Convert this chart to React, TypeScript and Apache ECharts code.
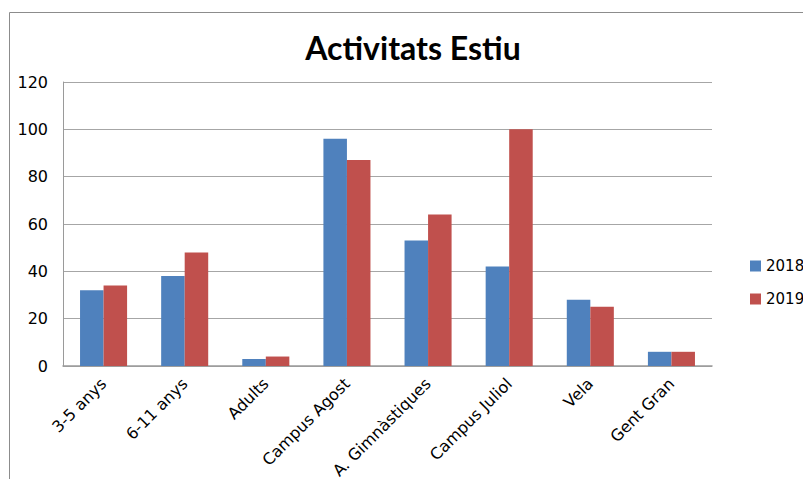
import React, { useEffect, useRef } from "react";
import * as echarts from "echarts";

const categories = ["3-5 anys", "6-11 anys", "Adults", "Campus Agost", "A. Gimnàstiques", "Campus Juliol", "Vela", "Gent Gran"];
const values2018 = [32, 38, 3, 96, 53, 42, 28, 6];
const values2019 = [34, 48, 4, 87, 64, 100, 25, 6];
const seriesNames = ["2018", "2019"];
const chartTitle = "Activitats Estiu";

export default function App() {
  const ref = useRef<HTMLDivElement>(null);
  useEffect(() => {
    if (!ref.current) return;
    const chart = echarts.init(ref.current, undefined, { renderer: "svg" });
    const font = "DejaVu Sans";
    chart.setOption({
      animation: false,
      backgroundColor: "#ffffff",
      title: {
        text: chartTitle,
        left: 408,
        top: 26,
        textAlign: "center",
        textStyle: { fontFamily: "Lato", fontWeight: "bold", fontSize: 32, color: "#000" },
      },
      graphic: [
        {
          type: "rect",
          shape: { x: 9.5, y: 12.5, width: 900, height: 600 },
          style: { fill: "none", stroke: "#8c8c8c", lineWidth: 1 },
          silent: true,
        },
      ],
      legend: {
        orient: "vertical",
        left: 745,
        top: 252,
        itemWidth: 11,
        itemHeight: 11,
        itemGap: 15,
        icon: "rect",
        textStyle: { fontFamily: font, fontSize: 15, color: "#000", lineHeight: 18 },
        data: seriesNames,
      },
      grid: { left: 63, right: 91, top: 82, bottom: 113, containLabel: false, outerBoundsMode: "none" },
      xAxis: {
        type: "category",
        data: categories,
        axisLine: { show: true, lineStyle: { color: "#9a9a9a", width: 1.5 } },
        axisTick: { show: false },
        axisLabel: {
          rotate: 45,
          interval: 0,
          margin: 15,
          fontFamily: font,
          fontSize: 16,
          color: "#000",
        },
      },
      yAxis: {
        type: "value",
        min: 0,
        max: 120,
        interval: 20,
        axisLine: { show: true, lineStyle: { color: "#9a9a9a", width: 1 } },
        axisTick: { show: false },
        splitLine: { show: true, lineStyle: { color: "#a6a6a6", width: 1 } },
        axisLabel: { fontFamily: font, fontSize: 16, color: "#000", margin: 15 },
      },
      series: [
        {
          name: seriesNames[0],
          type: "bar",
          data: values2018,
          itemStyle: { color: "#4F81BD" },
          barGap: "0%",
          barCategoryGap: "42%",
        },
        {
          name: seriesNames[1],
          type: "bar",
          data: values2019,
          itemStyle: { color: "#C0504D" },
          barGap: "0%",
          barCategoryGap: "42%",
        },
      ],
    });
    return () => chart.dispose();
  }, []);
  return (
    <div
      ref={ref}
      style={{ position: "absolute", left: 0, top: 0, width: 803, height: 479 }}
    />
  );
}
